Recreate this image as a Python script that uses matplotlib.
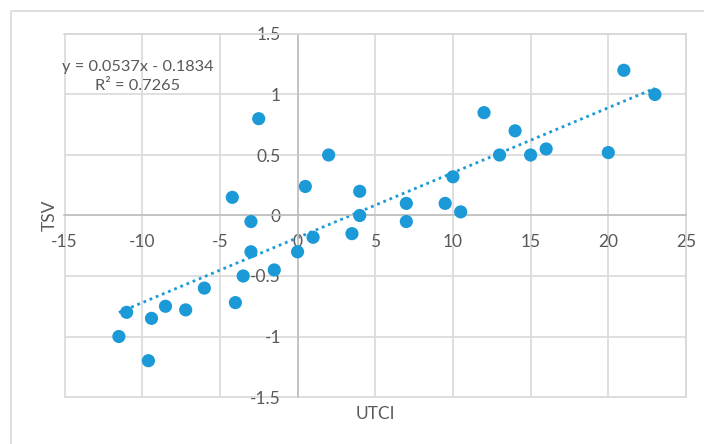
import matplotlib
matplotlib.use("Agg")
import matplotlib.pyplot as plt
from matplotlib.lines import Line2D
from matplotlib.patches import Rectangle
import numpy as np

plt.rcParams['font.family'] = ['Lato', 'DejaVu Sans']

utci = [-11.5, -11, -9.6, -9.4, -8.5, -7.2, -6, -4.2, -4, -3.5, -3, -3, -2.5, -1.5,
        0, 0.5, 1, 2, 3.5, 4, 4, 7, 7, 9.5, 10, 10.5, 12, 13, 14, 15, 16, 20, 21, 23]
tsv = [-1.0, -0.8, -1.2, -0.85, -0.75, -0.78, -0.6, 0.15, -0.72, -0.5, -0.05, -0.3, 0.8, -0.45,
       -0.3, 0.24, -0.18, 0.5, -0.15, 0.2, 0.0, 0.1, -0.05, 0.1, 0.32, 0.03, 0.85, 0.5, 0.7, 0.5, 0.55, 0.52, 1.2, 1.0]
slope = 0.0537
intercept = -0.1834
r2 = 0.7265
xticks = [-15, -10, -5, 0, 5, 10, 15, 20, 25]
yticks = [-1.5, -1, -0.5, 0, 0.5, 1, 1.5]
xtick_labels = ['-15', '-10', '-5', '0', '5', '10', '15', '20', '25']
ytick_labels = ['-1.5', '-1', '-0.5', '0', '0.5', '1', '1.5']

blue = '#1B9AD7'
grid_c = '#D9D9D9'
axis_c = '#BFBFBF'
text_c = '#595959'

fig = plt.figure(figsize=(7.04, 4.44), dpi=100)
# outer chart border
fig.add_artist(Line2D([11/704, 11/704, 1.0], [0.0, 1 - 11/444, 1 - 11/444],
                      transform=fig.transFigure, color=grid_c, lw=1.2))

ax = fig.add_axes([64.5/704, 47/444, 621.5/704, 363/444])
ax.set_xlim(-15, 25)
ax.set_ylim(-1.5, 1.5)
ax.set_xticks(xticks)
ax.set_yticks(yticks)
ax.set_xticklabels(xtick_labels)
ax.set_yticklabels(ytick_labels)
ax.grid(True, color=grid_c, lw=1.2)
ax.set_axisbelow(True)
for s in ['top', 'right']:
    ax.spines[s].set_color(grid_c)
    ax.spines[s].set_linewidth(1.2)
ax.spines['left'].set_position(('data', 0))
ax.spines['bottom'].set_position(('data', 0))
ax.spines['left'].set_color(axis_c)
ax.spines['bottom'].set_color(axis_c)
ax.spines['left'].set_linewidth(1.2)
ax.spines['bottom'].set_linewidth(1.2)
ax.add_patch(Rectangle((0, 0), 1, 1, transform=ax.transAxes, fill=False,
                       edgecolor=grid_c, lw=1.2, clip_on=False, zorder=0.5))
ax.tick_params(axis='x', length=0, pad=13, labelsize=12.5, labelcolor=text_c)
ax.tick_params(axis='y', length=0, pad=12, labelsize=12.5, labelcolor=text_c)

xs = np.array([min(utci), max(utci)])
ax.plot(xs, slope * xs + intercept, color=blue, lw=2, linestyle=(0, (1, 1.4)), zorder=2)
ax.scatter(utci, tsv, s=90, color=blue, zorder=3, edgecolors='none')

ax.text(-10.27, 1.145, f"y = {slope}x - {abs(intercept)}\nR² = {r2}", ha='center', va='center',
        fontsize=11.8, color=text_c, linespacing=1.45)
ax.text(-0.023, 0.5, 'TSV', transform=ax.transAxes, rotation=90, ha='center', va='center',
        fontsize=12.5, color=text_c)
ax.text(0.5, -0.047, 'UTCI', transform=ax.transAxes, ha='center', va='center',
        fontsize=12.5, color=text_c)

fig.savefig('out.png', dpi=100)
